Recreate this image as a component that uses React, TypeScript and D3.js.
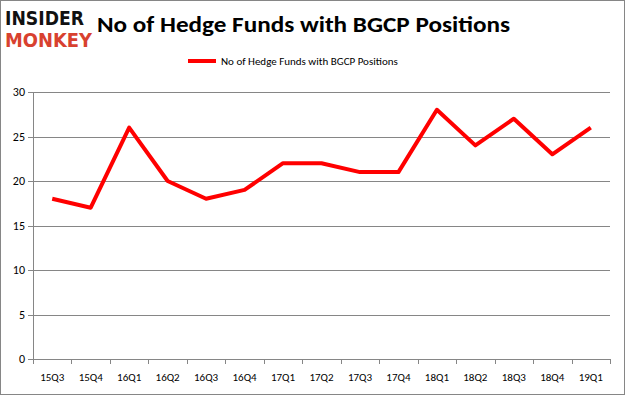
import React, { useRef, useEffect } from 'react'
import * as d3 from 'd3'

const quarters = ['15Q3', '15Q4', '16Q1', '16Q2', '16Q3', '16Q4', '17Q1', '17Q2', '17Q3', '17Q4', '18Q1', '18Q2', '18Q3', '18Q4', '19Q1']
const funds = [18, 17, 26, 20, 18, 19, 22, 22, 21, 21, 28, 24, 27, 23, 26]
const yTicks = [0, 5, 10, 15, 20, 25, 30]
const seriesName = 'No of Hedge Funds with BGCP Positions'

const W = 625
const H = 395
const left = 33
const right = 610
const top = 92
const bottom = 359

const App = () => {
    const svgRef = useRef<SVGSVGElement>(null)

    useEffect(() => {
        const svg = d3.select(svgRef.current)
        svg.selectAll('*').remove()

        const x = d3.scaleBand<string>().domain(quarters).range([left, right])
        const y = d3.scaleLinear().domain([0, 30]).range([bottom, top])
        const font = 'Calibri, Carlito, "Open Sans", "Liberation Sans", sans-serif'

        svg.append('rect')
            .attr('x', 0.5).attr('y', 0.5)
            .attr('width', W - 1).attr('height', H - 1)
            .attr('fill', '#fff').attr('stroke', '#868686')

        // gridlines
        svg.append('g')
            .selectAll('line')
            .data(yTicks)
            .join('line')
            .attr('x1', left - 5).attr('x2', right)
            .attr('y1', d => Math.round(y(d)) + 0.5).attr('y2', d => Math.round(y(d)) + 0.5)
            .attr('stroke', '#868686')

        // y axis line
        svg.append('line')
            .attr('x1', left + 0.5).attr('x2', left + 0.5)
            .attr('y1', top).attr('y2', bottom)
            .attr('stroke', '#868686')

        // x ticks
        const edges = quarters.map(q => x(q) as number).concat([right])
        svg.append('g')
            .selectAll('line')
            .data(edges)
            .join('line')
            .attr('x1', d => Math.round(d) + 0.5).attr('x2', d => Math.round(d) + 0.5)
            .attr('y1', bottom).attr('y2', bottom + 5)
            .attr('stroke', '#868686')

        svg.append('g')
            .selectAll('text')
            .data(yTicks)
            .join('text')
            .attr('x', left - 8).attr('y', d => y(d) + 4)
            .attr('text-anchor', 'end')
            .style('font-family', font).style('font-size', '12px').attr('fill', '#000')
            .text(d => d)

        svg.append('g')
            .selectAll('text')
            .data(quarters)
            .join('text')
            .attr('x', d => (x(d) as number) + x.bandwidth() / 2).attr('y', bottom + 22)
            .attr('text-anchor', 'middle')
            .style('font-family', font).style('font-size', '11px').attr('fill', '#000')
            .text(d => d)

        const fundLine = d3.line<number>()
            .x((d, i) => (x(quarters[i]) as number) + x.bandwidth() / 2)
            .y(d => y(d))

        svg.append('path')
            .datum(funds)
            .attr('d', fundLine)
            .attr('fill', 'none')
            .attr('stroke', '#ff0000')
            .attr('stroke-width', 4)
            .attr('stroke-linejoin', 'round')

        // legend
        svg.append('line')
            .attr('x1', 188).attr('x2', 216).attr('y1', 61).attr('y2', 61)
            .attr('stroke', '#ff0000').attr('stroke-width', 4)
        svg.append('text')
            .attr('x', 221).attr('y', 65)
            .style('font-family', font).style('font-size', '11px').attr('fill', '#000')
            .text(seriesName)

        // title
        svg.append('text')
            .attr('x', 97).attr('y', 32)
            .attr('textLength', 413).attr('lengthAdjust', 'spacingAndGlyphs')
            .style('font-family', font).style('font-size', '22px').style('font-weight', 'bold').attr('fill', '#000')
            .text(seriesName)

        // logo
        svg.append('text')
            .attr('x', 5).attr('y', 25)
            .attr('textLength', 79).attr('lengthAdjust', 'spacingAndGlyphs')
            .style('font-family', '"DejaVu Sans", sans-serif').style('font-size', '20px').style('font-weight', 'bold').attr('fill', '#111')
            .text('INSIDER')
        svg.append('text')
            .attr('x', 5).attr('y', 47)
            .attr('textLength', 87).attr('lengthAdjust', 'spacingAndGlyphs')
            .style('font-family', '"DejaVu Sans", sans-serif').style('font-size', '20px').style('font-weight', 'bold').attr('fill', '#d8412f')
            .text('MONKEY')
    }, [])

    return (
        <svg ref={svgRef} width={W} height={H} style={{ position: 'absolute', left: 0, top: 0 }} />
    )
}

export default App
